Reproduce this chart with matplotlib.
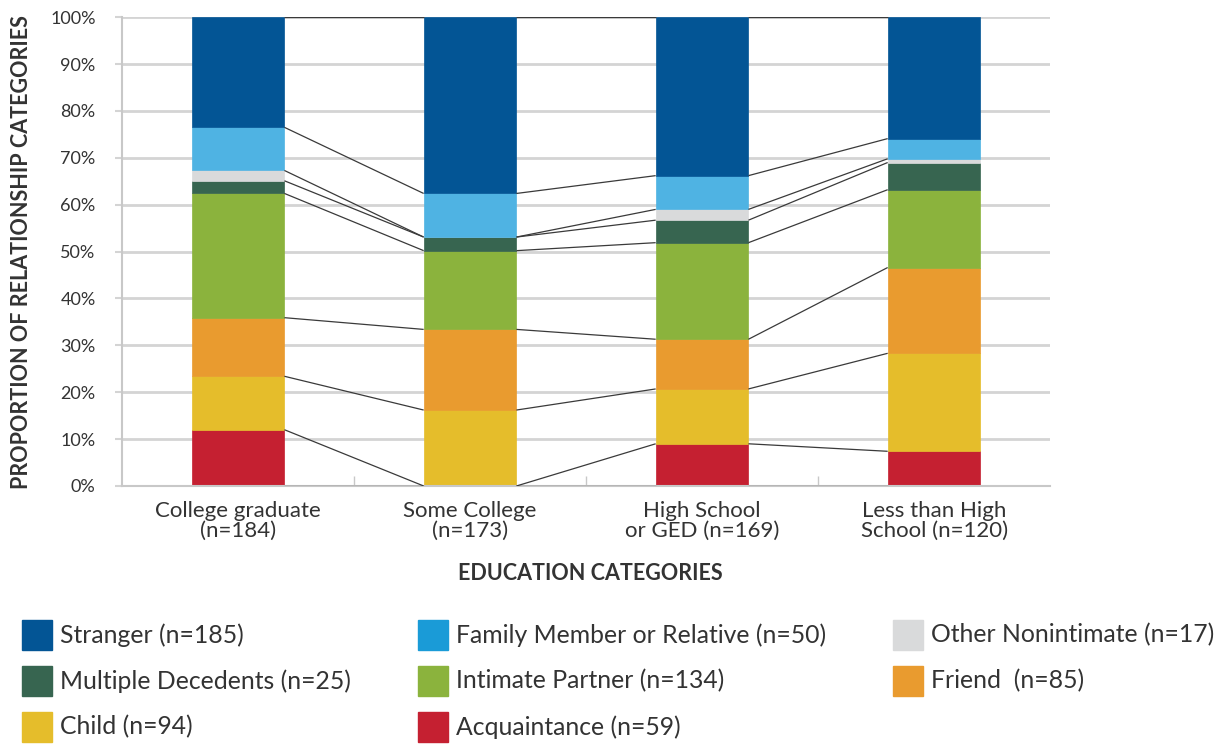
import numpy as np
import matplotlib
matplotlib.use('Agg')
from matplotlib import pyplot as plt
from matplotlib.patches import Rectangle

# Datos (porcentajes)
categorias = ['College graduate\n(n=184)', 'Some College\n(n=173)',
              'High School\nor GED (n=169)', 'Less than High\nSchool (n=120)']

series = ['Acquaintance (n=59)', 'Child (n=94)', 'Friend  (n=85)',
          'Intimate Partner (n=134)', 'Multiple Decedents (n=25)',
          'Other Nonintimate (n=17)', 'Family Member or Relative (n=50)',
          'Stranger (n=185)']

acquaintance = [12.0, 0.0, 9.0, 7.4]
child = [11.4, 16.2, 11.7, 20.9]
friend = [12.5, 17.2, 10.6, 18.3]
intimate = [26.5, 16.8, 20.6, 16.6]
multiple = [2.7, 2.9, 4.8, 5.8]
other = [2.2, 0.0, 2.3, 0.8]
family = [9.2, 9.3, 7.2, 4.3]
stranger = [23.5, 37.6, 33.8, 25.9]

valores = [acquaintance, child, friend, intimate, multiple, other, family, stranger]

colores = ['#c52031', '#e5bd2b', '#e99b2f', '#8bb33d', '#376550',
           '#d9dadb', '#4fb3e3', '#035595']
colores_leyenda = ['#c52031', '#e5bd2b', '#e99b2f', '#8bb33d', '#376550',
                   '#d9dadb', '#1a9bd7', '#035595']

plt.rcParams['font.family'] = ['Lato', 'DejaVu Sans']
texto = '#333333'

fig = plt.figure(figsize=(12.24, 7.44), dpi=100)
ax = fig.add_axes([0.0997, 0.3468, 0.7582, 0.6301])

x = np.arange(len(categorias))
ancho = 0.4
base = np.zeros(len(categorias))
acumulados = [base.copy()]
for vals, col in zip(valores, colores):
    vals = np.array(vals)
    ax.bar(x, vals, ancho, bottom=base, color=col, edgecolor=col, linewidth=0.5, zorder=2)
    base = base + vals
    acumulados.append(base.copy())

# Líneas que unen los límites entre barras
for cum in acumulados:
    for i in range(len(categorias) - 1):
        ax.plot([x[i] + ancho / 2, x[i + 1] - ancho / 2], [cum[i], cum[i + 1]],
                color='#3a3a3a', lw=0.9, zorder=3, solid_capstyle='butt')

ax.set_xlim(-0.5, len(categorias) - 0.5)
ax.set_ylim(0, 100)
ax.set_yticks(np.arange(0, 101, 10))
ax.set_yticklabels([f'{v}%' for v in range(0, 101, 10)], fontsize=13, color=texto)
ax.yaxis.grid(True, color='#d4d4d4', lw=2)
ax.set_axisbelow(True)
ax.tick_params(axis='y', length=5, width=1.5, color='#d4d4d4', pad=14)

ax.set_xticks(x)
ax.set_xticklabels(categorias, fontsize=16, color=texto, linespacing=0.95)
ax.tick_params(axis='x', length=0, pad=11)
ax.set_xticks(x[:-1] + 0.5, minor=True)
ax.tick_params(axis='x', which='minor', direction='in', length=7, width=1, color='#c8c8c8')

for lado in ['top', 'right']:
    ax.spines[lado].set_visible(False)
for lado in ['left', 'bottom']:
    ax.spines[lado].set_color('#c8c8c8')
    ax.spines[lado].set_linewidth(1.5)

fig.text(22 / 1224, 1 - 252 / 744, 'PROPORTION OF RELATIONSHIP CATEGORIES',
         rotation=90, ha='center', va='center', fontsize=15.5, fontweight='bold', color=texto)
fig.text(590 / 1224, 1 - 574 / 744, 'EDUCATION CATEGORIES',
         ha='center', va='center', fontsize=15.5, fontweight='bold', color=texto)

# Leyenda manual (orden por filas como en el original)
orden = [7, 6, 5, 4, 3, 2, 1, 0]
col_x = [22, 418, 893]
fila_y = [635, 681, 727]
for k, idx in enumerate(orden):
    fila, col = divmod(k, 3)
    px, py = col_x[col], fila_y[fila]
    fig.add_artist(Rectangle((px / 1224, 1 - (py + 15) / 744), 30 / 1224, 30 / 744,
                             transform=fig.transFigure, color=colores_leyenda[idx]))
    fig.text((px + 38) / 1224, 1 - py / 744, series[idx], ha='left', va='center',
             fontsize=17.8, color=texto)

plt.savefig('out.png', dpi=100)
plt.close('all')
